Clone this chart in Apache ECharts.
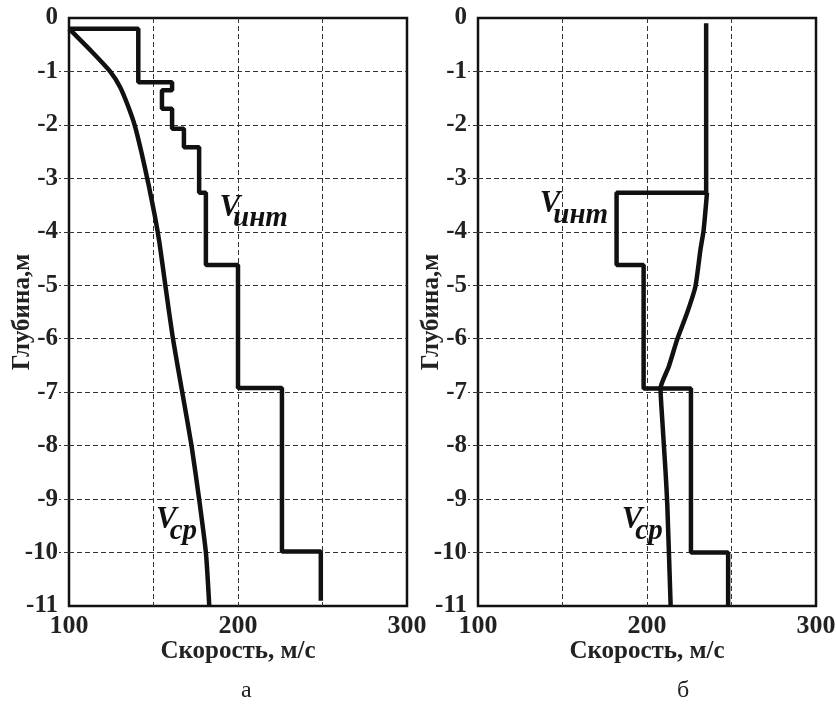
<!DOCTYPE html>
<html>
<head>
<meta charset="utf-8">
<script src="https://cdn.jsdelivr.net/npm/echarts@6/dist/echarts.min.js"></script>
<style>
  html, body { margin: 0; padding: 0; background: #fff; }
  #chart { width: 837px; height: 710px; }
</style>
</head>
<body>
<div id="chart"></div>
<script>
// Velocity vs depth, two cases (а, б): interval velocity (step) and average velocity.

const speedLabels = [100, 200, 300];
const speedTicks = [150, 200, 250];
const depthTicks = [-1, -2, -3, -4, -5, -6, -7, -8, -9, -10];

// panel а
const vIntA = [[100, -0.2], [141, -0.2], [141, -1.2], [161, -1.2], [161, -1.35], [155, -1.35],
  [155, -1.7], [161, -1.7], [161, -2.07], [168, -2.07], [168, -2.42], [177, -2.42], [177, -3.27],
  [181, -3.27], [181, -4.62], [200, -4.62], [200, -6.92], [226, -6.92], [226, -9.98],
  [249, -9.98], [249, -10.9]];
const vAvgA = [[100, -0.2], [114.4, -0.66], [124.3, -1.0], [130.2, -1.29], [135.1, -1.66],
  [139.1, -2.03], [143, -2.53], [146.9, -3.09], [150.9, -3.72], [153.5, -4.2], [157, -5],
  [161.5, -6], [167, -7], [172.5, -8], [177, -9], [181, -10], [183, -11]];

// panel б
const vIntB = [[235, -0.1], [235, -3.27], [182, -3.27], [182, -4.62], [198, -4.62], [198, -6.93],
  [226, -6.93], [226, -10], [248, -10], [248, -11]];
const vAvgB = [[235.5, -3.27], [233.5, -3.97], [231.6, -4.34], [228.6, -5.03], [223.7, -5.52],
  [217.8, -6.02], [212.9, -6.52], [208, -6.93], [209, -7.5], [211, -8.5], [212, -9.1], [214, -11]];

// curve captions, anchored in data space
const capIntA = [189, -3.76], capAvgA = [151.5, -9.6];
const capIntB = [136.5, -3.69], capAvgB = [185, -9.6];

const FONT = '"Liberation Serif", "Times New Roman", serif';
const GRID_DASH = { color: '#333', width: 1, type: [5, 3] };

const chart = echarts.init(document.getElementById('chart'));

function xAxis(i) {
  return {
    type: 'value', gridIndex: i, min: 100, max: 300, interval: 50,
    name: 'Скорость, м/с', nameLocation: 'middle', nameGap: 33, nameMoveOverlap: false,
    nameTextStyle: { fontFamily: FONT, fontWeight: 'bold', fontSize: 25, color: '#222' },
    axisLine: { show: false },
    axisTick: { show: true, customValues: speedTicks, length: 10, lineStyle: GRID_DASH },
    axisLabel: { customValues: speedLabels, margin: 7, fontFamily: FONT, fontWeight: 'bold',
      fontSize: 26, color: '#222' },
    splitLine: { show: true, lineStyle: GRID_DASH },
  };
}

function yAxis(i) {
  return {
    type: 'value', gridIndex: i, min: -11, max: 0, interval: 1,
    name: 'Глубина,м', nameLocation: 'middle', nameGap: 34, nameMoveOverlap: false,
    nameTextStyle: { fontFamily: FONT, fontWeight: 'bold', fontSize: 25, color: '#222' },
    axisLine: { show: false },
    axisTick: { show: true, customValues: depthTicks, length: 10, lineStyle: GRID_DASH },
    axisLabel: { margin: 11, fontFamily: FONT, fontWeight: 'bold', fontSize: 25, color: '#222' },
    splitLine: { show: true, lineStyle: GRID_DASH },
  };
}

function caption(sub, coord) {
  return {
    symbol: 'circle', symbolSize: 0, silent: true,
    data: [{ coord }],
    label: {
      show: true, position: 'inside', align: 'left', verticalAlign: 'middle',
      formatter: '{v|V}{s|' + sub + '}',
      rich: {
        v: { fontFamily: FONT, fontStyle: 'italic', fontWeight: 'bold', fontSize: 31,
          color: '#111', lineHeight: 30, verticalAlign: 'top' },
        s: { fontFamily: FONT, fontStyle: 'italic', fontWeight: 'bold', fontSize: 29,
          color: '#111', lineHeight: 54, verticalAlign: 'middle', padding: [0, 0, 0, -7] },
      },
    },
  };
}

function line(data, i, smooth, mark) {
  return {
    type: 'line', xAxisIndex: i, yAxisIndex: i, data, smooth,
    showSymbol: false, animation: false,
    lineStyle: { color: '#111', width: 4.5 },
    markPoint: mark,
  };
}

const gridBase = { top: 18, width: 338, height: 588, show: true, borderColor: '#111',
  borderWidth: 2.5, outerBoundsMode: 'none', containLabel: false };

chart.setOption({
  animation: false,
  grid: [
    { ...gridBase, left: 69 },
    { ...gridBase, left: 478 },
  ],
  xAxis: [xAxis(0), xAxis(1)],
  yAxis: [yAxis(0), yAxis(1)],
  title: [
    { text: 'а', left: 236, top: 674, textStyle: { fontFamily: FONT, fontWeight: 'normal', fontSize: 24, color: '#222' } },
    { text: 'б', left: 672, top: 674, textStyle: { fontFamily: FONT, fontWeight: 'normal', fontSize: 24, color: '#222' } },
  ],
  series: [
    line(vIntA, 0, false, caption('инт', capIntA)),
    line(vAvgA, 0, 0.2, caption('ср', capAvgA)),
    line(vIntB, 1, false, caption('инт', capIntB)),
    line(vAvgB, 1, 0.2, caption('ср', capAvgB)),
  ],
});
</script>
</body>
</html>
